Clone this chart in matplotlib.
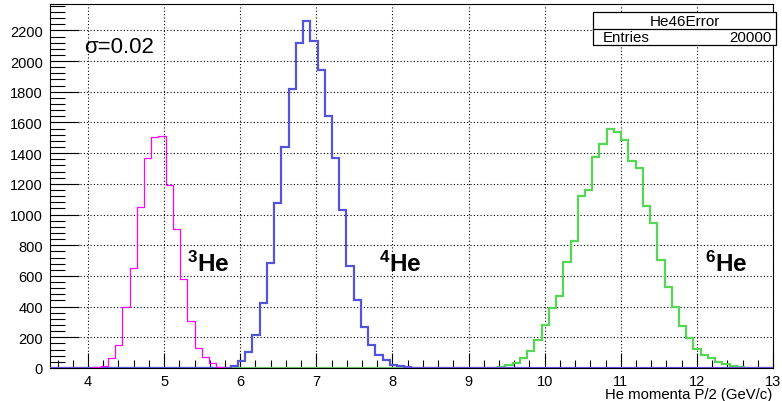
import numpy as np
import matplotlib
matplotlib.use("Agg")
import matplotlib.pyplot as plt
from matplotlib.patches import Rectangle
from matplotlib.lines import Line2D

plt.rcParams['font.family'] = ['Liberation Sans', 'DejaVu Sans']
plt.rcParams['mathtext.fontset'] = 'custom'
plt.rcParams['mathtext.rm'] = 'Liberation Sans'
plt.rcParams['mathtext.bf'] = 'Liberation Sans:bold'

# Histogram binning: 100 bins from 3.5 to 13
n_bins = 100
x_lo, x_hi = 3.5, 13.0

# Bin contents (first non-empty bin index + counts)
he3_first = 6
he3_counts = [4, 15, 63, 150, 400, 653, 1049, 1368, 1505, 1513, 1194, 905,
              580, 308, 130, 71, 32, 6]
he4_first = 24
he4_counts = [3, 15, 43, 102, 218, 425, 682, 1074, 1442, 1815, 2120, 2259,
              2128, 1943, 1640, 1366, 1030, 664, 442, 268, 152, 83, 50, 22,
              10, 5]
he6_first = 61
he6_counts = [3, 8, 19, 34, 63, 112, 182, 280, 390, 470, 690, 825, 1124, 1158,
              1377, 1457, 1560, 1537, 1485, 1348, 1305, 1054, 945, 705, 531,
              400, 274, 193, 122, 84, 63, 41, 26, 12, 4, 2]

hist_title = "He46Error"
entries = 20000
sigma_text = "\u03c3=0.02"
x_title = "He momenta P/2 (GeV/c)"


def fill(first, counts):
    h = np.zeros(n_bins)
    h[first:first + len(counts)] = counts
    return h


edges = np.linspace(x_lo, x_hi, n_bins + 1)
h3 = fill(he3_first, he3_counts)
h4 = fill(he4_first, he4_counts)
h6 = fill(he6_first, he6_counts)

W, H = 782, 402
fig = plt.figure(figsize=(W / 100, H / 100), dpi=100)
ax = fig.add_axes([50 / W, (H - 369) / H, (773 - 50) / W, (369 - 5) / H])

ax.stairs(h6, edges, color='#55d655', lw=1.6, zorder=3)
ax.stairs(h4, edges, color='#5454d9', lw=1.6, zorder=3)
ax.stairs(h3, edges, color='#ff00ff', lw=0.9, zorder=4)

ax.set_xlim(x_lo, x_hi)
ax.set_ylim(0, 1.05 * h4.max())

ax.set_xticks(np.arange(4, 14, 1))
ax.set_xticks(np.arange(3.6, 13.0, 0.2), minor=True)
ax.set_yticks(np.arange(0, 2400, 200))
ax.set_yticks(np.arange(0, 2400, 40), minor=True)

ax.tick_params(axis='x', which='major', direction='in', length=11, width=0.8,
               labelsize=10.5, pad=4)
ax.tick_params(axis='x', which='minor', direction='in', length=6, width=0.8)
ax.tick_params(axis='y', which='major', direction='in', length=21, width=0.8,
               labelsize=10.5, pad=5)
ax.tick_params(axis='y', which='minor', direction='in', length=11, width=0.8)
ax.tick_params(top=False, right=False, which='both')

ax.grid(True, which='major', color='black', linestyle=(0, (1, 2)), lw=0.8)
ax.set_axisbelow(True)
for s in ax.spines.values():
    s.set_linewidth(0.8)

# axis title, right aligned under the frame
fig.text(772 / W, (H - 395) / H, x_title, ha='right', va='center', fontsize=10.7)

# annotations
ax.text(3.95, 2095, sigma_text, fontsize=16, ha='left', va='center')
ax.text(5.3, 633, r'$\mathbf{^{3}He}$', fontsize=17.5, ha='left', va='baseline')
ax.text(7.82, 633, r'$\mathbf{^{4}He}$', fontsize=17.5, ha='left', va='baseline')
ax.text(12.1, 633, r'$\mathbf{^{6}He}$', fontsize=17.5, ha='left', va='baseline')

# stats box
bx0, bx1, by0, by1, bmid = 593, 776, 13, 46, 29.5
fig.add_artist(Rectangle((bx0 / W, (H - by1) / H), (bx1 - bx0) / W, (by1 - by0) / H,
                         transform=fig.transFigure, facecolor='white',
                         edgecolor='black', lw=0.9, zorder=10))
fig.add_artist(Line2D([bx0 / W, bx1 / W], [(H - bmid) / H] * 2,
                      transform=fig.transFigure, color='black', lw=0.9, zorder=11))
fig.text((bx0 + bx1) / 2 / W, (H - 21.5) / H, hist_title, ha='center', va='center',
         fontsize=11, zorder=12)
fig.text(603 / W, (H - 38) / H, "Entries", ha='left', va='center', fontsize=10.8, zorder=12)
fig.text(772 / W, (H - 38) / H, str(entries), ha='right', va='center', fontsize=10.8, zorder=12)

fig.savefig("out.png", dpi=100)
